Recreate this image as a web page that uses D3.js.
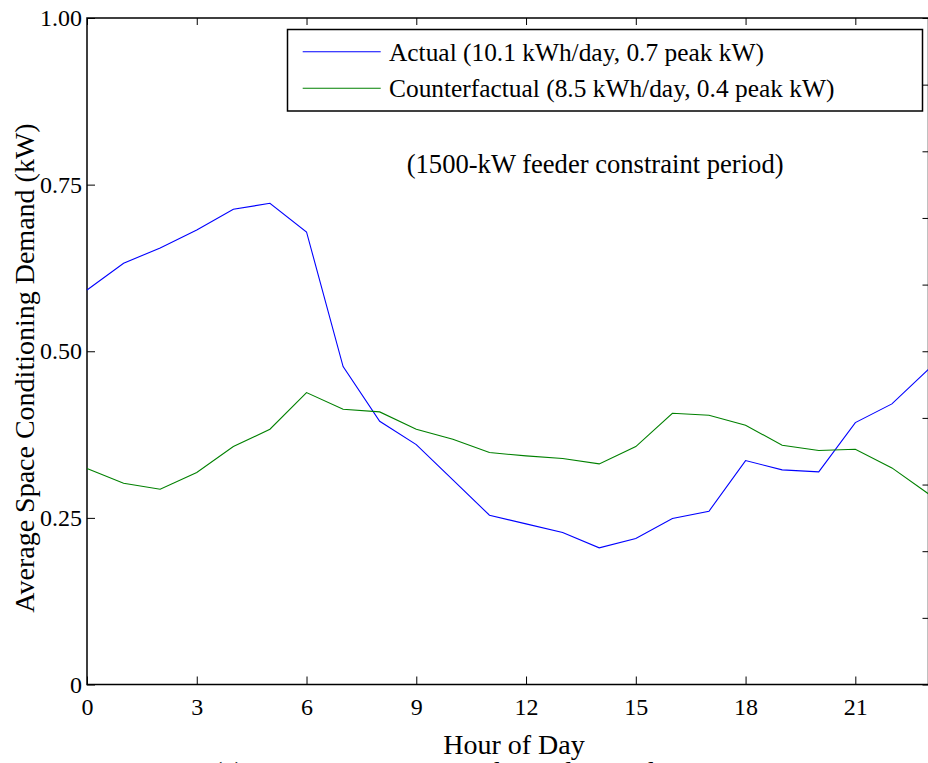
<!DOCTYPE html>
<html>
<head>
<meta charset="utf-8">
<script src="https://cdn.jsdelivr.net/npm/d3@7"></script>
<style>
  html, body { margin: 0; padding: 0; background: #fff; overflow: hidden; }
  svg { display: block; font-family: "Liberation Serif", "Times New Roman", serif; }
</style>
</head>
<body>
<div id="chart"></div>
<script>
// 每小时数据
const hours = [0, 1, 2, 3, 4, 5, 6, 7, 8, 9, 10, 11, 12, 13, 14, 15, 16, 17, 18, 19, 20, 21, 22, 23];
const actual = [0.592, 0.632, 0.655, 0.682, 0.713, 0.722, 0.679, 0.477, 0.395, 0.360, 0.307, 0.254,
                0.241, 0.228, 0.205, 0.219, 0.249, 0.260, 0.336, 0.322, 0.319, 0.393, 0.421, 0.473];
const counterfactual = [0.324, 0.302, 0.293, 0.318, 0.357, 0.383, 0.438, 0.413, 0.409, 0.383, 0.368, 0.348,
                        0.343, 0.339, 0.331, 0.357, 0.407, 0.404, 0.389, 0.359, 0.351, 0.353, 0.325, 0.286];
const seriesNames = ["Actual (10.1 kWh/day, 0.7 peak kW)", "Counterfactual (8.5 kWh/day, 0.4 peak kW)"];
const xTicks = [0, 3, 6, 9, 12, 15, 18, 21];
const yTicks = [0, 0.25, 0.5, 0.75, 1.0];
const yTickLabels = ["0", "0.25", "0.50", "0.75", "1.00"];
const rightTicks = [0, 0.1, 0.2, 0.3, 0.4, 0.5, 0.6, 0.7, 0.8, 0.9, 1.0];

const W = 928, H = 763;
const plot = { left: 87, right: 928.5, top: 18, bottom: 684.5 };

const svg = d3.select("#chart").append("svg")
  .attr("width", W)
  .attr("height", H);

const x = d3.scaleLinear().domain([0, 23]).range([plot.left, plot.right]);
const y = d3.scaleLinear().domain([0, 1]).range([plot.bottom, plot.top]);

const colors = ["#0000ff", "#008000"];

// 坐标轴 (刻度朝内)
const styleAxis = g => {
  g.select(".domain").remove();
  g.selectAll(".tick line").attr("stroke", "#000").attr("stroke-width", 1);
  g.selectAll("text").attr("fill", "#000").style("font-size", "24px")
    .style("font-family", "'Liberation Serif', serif");
};

svg.append("g")
  .attr("transform", `translate(0,${plot.bottom})`)
  .call(d3.axisBottom(x).tickValues(xTicks).tickSizeInner(-8).tickSizeOuter(0)
    .tickPadding(13).tickFormat(d3.format("d")))
  .call(styleAxis);

svg.append("g")
  .attr("transform", `translate(0,${plot.top})`)
  .call(d3.axisTop(x).tickValues(xTicks).tickSizeInner(-7).tickSizeOuter(0).tickFormat(""))
  .call(styleAxis);

svg.append("g")
  .attr("transform", `translate(${plot.left},0)`)
  .call(d3.axisLeft(y).tickValues(yTicks).tickSizeInner(-8).tickSizeOuter(0)
    .tickPadding(5).tickFormat((d, i) => yTickLabels[i]))
  .call(styleAxis);

svg.append("g")
  .attr("transform", `translate(${plot.right},0)`)
  .call(d3.axisRight(y).tickValues(rightTicks).tickSizeInner(-6).tickSizeOuter(0).tickFormat(""))
  .call(styleAxis);

// 边框
svg.append("rect")
  .attr("x", plot.left).attr("y", plot.top)
  .attr("width", plot.right - plot.left).attr("height", plot.bottom - plot.top)
  .attr("fill", "none").attr("stroke", "#000").attr("stroke-width", 1.5);

// 折线
const line = d3.line()
  .x((d, i) => x(hours[i]))
  .y(d => y(d));

[actual, counterfactual].forEach((s, k) => {
  svg.append("path")
    .datum(s)
    .attr("fill", "none")
    .attr("stroke", colors[k])
    .attr("stroke-width", 1.1)
    .attr("d", line);
});

// 图例
const legend = svg.append("g");
legend.append("rect")
  .attr("x", 287.5).attr("y", 29.5)
  .attr("width", 635).attr("height", 81.5)
  .attr("fill", "#fff").attr("stroke", "#000").attr("stroke-width", 1.5);
seriesNames.forEach((name, i) => {
  const cy = 51.7 + i * 36.6;
  legend.append("line")
    .attr("x1", 302.7).attr("x2", 380.7)
    .attr("y1", cy).attr("y2", cy)
    .attr("stroke", colors[i]).attr("stroke-width", 1.1);
  legend.append("text")
    .attr("x", 389).attr("y", cy + 9)
    .style("font-size", "25.4px")
    .text(name);
});

// 注释
svg.append("text")
  .attr("x", 406.7).attr("y", 173)
  .style("font-size", "26.6px")
  .text("(1500-kW feeder constraint period)");

// 轴标题
svg.append("text")
  .attr("x", 514).attr("y", 754)
  .attr("text-anchor", "middle")
  .style("font-size", "28px")
  .text("Hour of Day");

svg.append("text")
  .attr("transform", `translate(34,368) rotate(-90)`)
  .attr("text-anchor", "middle")
  .style("font-size", "28px")
  .text("Average Space Conditioning Demand (kW)");

// 图注 (被裁切)
svg.append("text")
  .attr("x", 213).attr("y", 781)
  .style("font-size", "28px")
  .text("(a) During Unconstrained Supply Conditions");
</script>
</body>
</html>
